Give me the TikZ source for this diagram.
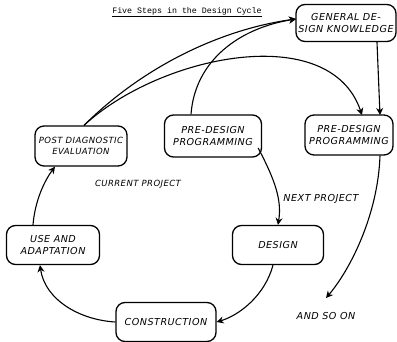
\documentclass[tikz,border=0pt]{standalone}
\usepackage{fontspec}
\usetikzlibrary{arrows.meta}
\newfontfamily\handfont[LetterSpace=5]{DejaVu Sans}
\newfontfamily\monofont{Liberation Mono}
\begin{document}
\begin{tikzpicture}[x=1pt,y=-1pt,
  box/.style={draw, line width=1.3pt, rounded corners=9pt, align=center,
    font=\handfont\itshape\fontsize{9.6}{11.5}\selectfont, inner sep=1pt},
  small/.style={font=\handfont\itshape\fontsize{8.5}{10.5}\selectfont},
  lbl/.style={font=\handfont\itshape\fontsize{9.6}{11.5}\selectfont},
  con/.style={line width=1.1pt, -{Stealth[length=7pt,width=7pt]}}]
\useasboundingbox (0,0) rectangle (397,342);
\node[box, minimum width=100pt, minimum height=37pt] (gdk) at (346,23) {GENERAL DE-\\SIGN KNOWLEDGE};
\node[box, small, minimum width=92pt, minimum height=40pt] (pde) at (81,146) {POST DIAGNOSTIC\\EVALUATION};
\node[box, minimum width=97pt, minimum height=42pt] (pdp) at (213,136) {PRE-DESIGN\\PROGRAMMING};
\node[box, minimum width=88pt, minimum height=40pt] (pdq) at (349,135) {PRE-DESIGN\\PROGRAMMING};
\node[box, minimum width=91pt, minimum height=39pt] (des) at (278,245) {DESIGN};
\node[box, minimum width=93pt, minimum height=39pt] (use) at (53,245) {USE AND\\ADAPTATION};
\node[box, minimum width=100pt, minimum height=39pt] (con) at (166,322) {CONSTRUCTION};
\node[small] (cur) at (138,184) {CURRENT PROJECT};
\node[lbl] (nxt) at (321,199) {NEXT PROJECT};
\node[lbl] (aso) at (326,316) {AND SO ON};
\node[font=\monofont\fontsize{8.3}{10}\selectfont] (ttl) at (187,12) {\underline{Five Steps in the Design Cycle}};
\coordinate (gdkin) at (296,19);
\coordinate (pdqin1) at (362,115);
\coordinate (pdqin2) at (380,115);
\coordinate (asoin) at (326,298);
\draw[con] ([xshift=3pt]pde.north) .. controls (150,60) and (230,28) .. (gdkin);
\draw[con] ([xshift=-22pt]pdp.north) .. controls (195,60) and (240,28) .. (gdkin);
\draw[con] ([xshift=3pt]pde.north) .. controls (160,55) and (330,20) .. (pdqin1);
\draw[con] ([xshift=31pt]gdk.south) -- (pdqin2);
\draw[con] ([xshift=31pt]pdq.south) .. controls (378,215) and (350,270) .. (asoin);
\draw[con] ([xshift=-4pt,yshift=-12pt]pdp.east) .. controls (275,180) and (282,200) .. (des.north);
\draw[con] ([xshift=-5pt]des.south) .. controls (265,295) and (240,315) .. (con.east);
\draw[con] (con.west) .. controls (80,320) and (45,300) .. ([xshift=-13pt]use.south);
\draw[con] ([xshift=-20pt]use.north) .. controls (35,200) and (45,180) .. ([xshift=-26pt]pde.south);
\end{tikzpicture}
\end{document}
